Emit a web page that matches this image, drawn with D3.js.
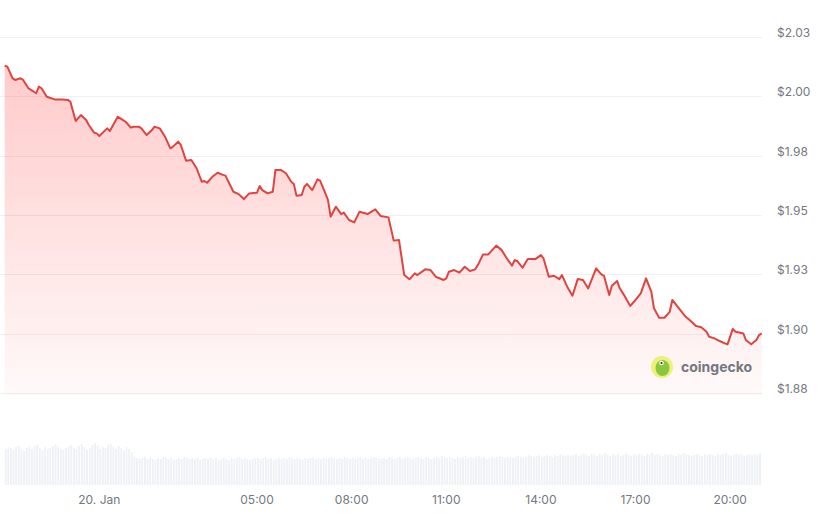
<!DOCTYPE html>
<html>
<head>
<meta charset="utf-8">
<script src="https://cdn.jsdelivr.net/npm/d3@7"></script>
<style>
body { margin: 0; background: #fff; }
text { font-family: Inter, "Noto Sans", sans-serif; }
</style>
</head>
<body>
<svg id="chart" width="836" height="513"></svg>
<script>
// price ticks (19 Jan 21:00 -> 20 Jan 21:00)
var times = ["21:00","21:05","21:15","21:20","21:30","21:35","21:45","21:50","22:00","22:05",
	"22:10","22:20","22:35","22:50","23:00","23:05","23:15","23:25","23:35","23:40",
	"23:50","23:55","00:00","00:15","00:20","00:35","00:40","00:45","00:50","01:00",
	"01:05","01:15","01:20","01:30","01:40","01:45","01:55","02:05","02:15","02:20",
	"02:30","02:35","02:45","02:55","03:05","03:15","03:20","03:25","03:35","03:45",
	"03:55","04:00","04:15","04:25","04:35","04:45","05:00","05:05","05:10","05:20",
	"05:30","05:35","05:45","05:55","06:05","06:10","06:15","06:25","06:30","06:35",
	"06:45","06:55","07:00","07:10","07:15","07:20","07:30","07:40","07:45","07:55",
	"08:05","08:15","08:30","08:45","08:55","09:10","09:20","09:30","09:40","09:50",
	"10:00","10:05","10:20","10:30","10:40","10:55","11:00","11:05","11:15","11:25",
	"11:35","11:45","11:55","12:00","12:10","12:20","12:35","12:45","12:55","13:05",
	"13:10","13:15","13:25","13:35","13:50","14:00","14:05","14:15","14:25","14:35",
	"14:40","14:50","15:00","15:10","15:20","15:25","15:30","15:45","15:55","16:00",
	"16:10","16:15","16:25","16:30","16:40","16:50","17:00","17:10","17:20","17:30",
	"17:35","17:45","17:55","18:05","18:10","18:20","18:35","18:45","18:55","19:05",
	"19:15","19:20","19:30","19:40","19:50","19:55","20:05","20:10","20:15","20:25",
	"20:30","20:40","20:50","20:55","21:00"];

var prices = [2.0129,2.0125,2.0076,2.0069,2.0076,2.0069,2.0034,2.0027,2.0013,2.0041,
	2.0034,1.9998,1.9987,1.9987,1.9985,1.9977,1.9896,1.9921,1.9900,1.9879,
	1.9847,1.9844,1.9833,1.9865,1.9854,1.9914,1.9907,1.9900,1.9893,1.9868,
	1.9872,1.9872,1.9865,1.9837,1.9858,1.9872,1.9865,1.9830,1.9781,1.9788,
	1.9809,1.9795,1.9729,1.9732,1.9697,1.9640,1.9643,1.9636,1.9661,1.9678,
	1.9669,1.9666,1.9598,1.9588,1.9567,1.9591,1.9594,1.9622,1.9605,1.9591,
	1.9598,1.9690,1.9690,1.9676,1.9640,1.9631,1.9581,1.9584,1.9619,1.9631,
	1.9605,1.9650,1.9645,1.9591,1.9563,1.9493,1.9535,1.9504,1.9510,1.9479,
	1.9469,1.9514,1.9504,1.9524,1.9496,1.9490,1.9392,1.9395,1.9247,1.9229,
	1.9254,1.9247,1.9271,1.9268,1.9240,1.9226,1.9233,1.9261,1.9268,1.9257,
	1.9282,1.9264,1.9271,1.9289,1.9334,1.9334,1.9371,1.9353,1.9318,1.9286,
	1.9310,1.9306,1.9278,1.9315,1.9315,1.9331,1.9317,1.9240,1.9244,1.9230,
	1.9247,1.9198,1.9160,1.9230,1.9226,1.9208,1.9191,1.9275,1.9250,1.9244,
	1.9163,1.9202,1.9222,1.9191,1.9156,1.9117,1.9142,1.9170,1.9233,1.9177,
	1.9107,1.9067,1.9067,1.9092,1.9142,1.9114,1.9072,1.9053,1.9032,1.9027,
	1.9008,1.8987,1.8980,1.8969,1.8959,1.8955,1.9020,1.9008,1.9006,1.9001,
	1.8973,1.8955,1.8973,1.8994,1.9001];

// 5 minute volume bars (millions)
var volumes = [36,38,37,35,38,39,36,34,37,38,36,39,40,37,35,38,36,37,39,41,38,36,35,37,
	38,40,37,36,39,41,38,35,37,40,42,39,36,38,37,40,41,38,36,39,37,35,38,36,
	33,28,27,26,27,28,26,27,26,25,27,26,28,27,26,27,25,26,27,26,28,27,26,27,
	26,27,25,26,27,26,28,26,27,25,26,27,26,25,27,26,27,28,26,27,26,25,26,27,
	27,26,27,28,26,27,25,26,27,26,27,26,28,27,26,27,26,25,27,26,27,28,26,27,
	26,27,26,27,28,27,26,27,26,28,27,26,27,26,27,28,26,27,26,27,28,27,26,27,
	27,26,28,27,26,27,28,26,27,28,27,26,27,28,27,26,28,27,26,27,28,27,29,28,
	27,28,27,26,28,27,28,29,27,28,27,28,29,27,28,26,27,28,27,28,29,28,27,28,
	28,27,28,29,28,27,28,30,29,28,29,30,28,29,30,29,28,30,29,31,30,29,30,29,
	30,31,29,30,31,30,29,31,30,29,31,30,32,30,29,31,30,31,29,30,31,30,29,31,
	30,31,30,29,31,30,32,30,31,30,29,31,30,31,30,29,31,30,32,31,30,29,30,31,
	30,29,31,30,31,30,29,31,30,31,32,30,29,30,31,30,31,29,30,31,30,31,30,32];

var yTicks = [1.875, 1.9, 1.925, 1.95, 1.975, 2.0, 2.025];
var yTickLabels = ["$1.88", "$1.90", "$1.93", "$1.95", "$1.98", "$2.00", "$2.03"];
var xTicks = ["2025-01-20T00:00", "2025-01-20T05:00", "2025-01-20T08:00", "2025-01-20T11:00",
	"2025-01-20T14:00", "2025-01-20T17:00", "2025-01-20T20:00"];
var xTickLabels = ["20. Jan", "05:00", "08:00", "11:00", "14:00", "17:00", "20:00"];

var lineColor = "#df4441";
var textColor = "#74787f";

DrawChart();

function DrawChart(){
	var svg = d3.select("#chart");

	// turn the clock strings into dates, rolling over midnight
	var day = 19, prevHour = -1;
	var data = times.map(function(t, i) {
		var h = +t.slice(0, 2), m = +t.slice(3);
		if (h < prevHour) day++;
		prevHour = h;
		return { date: new Date(2025, 0, day, h, m), price: prices[i] };
	});
	var start = data[0].date, end = data[data.length - 1].date;

	var xScale = d3.scaleTime().domain([start, end]).range([4.7, 761.7]);
	var yScale = d3.scaleLinear().domain([1.875, 2.025]).range([393, 37]);
	var vScale = d3.scaleLinear().domain([0, 50]).range([485, 435]);

	// grid + right labels
	svg.append("g").selectAll("line")
	 .data(yTicks)
	 .enter().append("line")
	 .attr("x1", 0)
	 .attr("x2", 762)
	 .attr("y1", function(d) { return Math.round(yScale(d)) + 0.5; })
	 .attr("y2", function(d) { return Math.round(yScale(d)) + 0.5; })
	 .attr("stroke", "#f0f0f0")
	 .attr("stroke-width", 1);

	svg.append("g").selectAll("text")
	 .data(yTicks)
	 .enter().append("text")
	 .attr("x", 777)
	 .attr("y", function(d) { return yScale(d); })
	 .attr("font-size", "12px")
	 .attr("fill", textColor)
	 .text(function(d, i) { return yTickLabels[i]; });

	// volume
	var step = xScale(new Date(+start + 5 * 60000)) - xScale(start);
	svg.append("g").selectAll("rect")
	 .data(volumes)
	 .enter().append("rect")
	 .attr("x", function(d, i) { return xScale(new Date(+start + i * 5 * 60000)); })
	 .attr("y", function(d) { return vScale(d); })
	 .attr("width", step * 0.7)
	 .attr("height", function(d) { return 485 - vScale(d); })
	 .attr("fill", "#eef1f5");

	// x labels
	svg.append("g").selectAll("text")
	 .data(xTicks)
	 .enter().append("text")
	 .attr("x", function(d) { return xScale(new Date(d)); })
	 .attr("y", 504)
	 .attr("text-anchor", "middle")
	 .attr("font-size", "12px")
	 .attr("fill", textColor)
	 .text(function(d, i) { return xTickLabels[i]; });

	// area gradient
	var grad = svg.append("defs").append("linearGradient")
	 .attr("id", "fade")
	 .attr("gradientUnits", "userSpaceOnUse")
	 .attr("x1", 0).attr("x2", 0)
	 .attr("y1", 62).attr("y2", 395);
	grad.append("stop").attr("offset", 0).attr("stop-color", "#ff3b3b").attr("stop-opacity", 0.27);
	grad.append("stop").attr("offset", 1).attr("stop-color", "#ff3b3b").attr("stop-opacity", 0.03);

	var area = d3.area()
	 .x(function(d) { return xScale(d.date); })
	 .y0(395)
	 .y1(function(d) { return yScale(d.price); });

	var line = d3.line()
	 .x(function(d) { return xScale(d.date); })
	 .y(function(d) { return yScale(d.price); });

	svg.append("path")
	 .datum(data)
	 .attr("d", area)
	 .attr("fill", "url(#fade)");

	svg.append("path")
	 .datum(data)
	 .attr("d", line)
	 .attr("fill", "none")
	 .attr("stroke", lineColor)
	 .attr("stroke-width", 2)
	 .attr("stroke-linejoin", "round");

	// watermark
	var logo = svg.append("g").attr("transform", "translate(662,367)");
	logo.append("circle").attr("r", 11).attr("fill", "#eef07c");
	logo.append("ellipse").attr("cx", 0.5).attr("cy", 1).attr("rx", 7).attr("ry", 8).attr("fill", "#8cc63f");
	logo.append("circle").attr("cx", -0.5).attr("cy", -4).attr("r", 2.3).attr("fill", "#fff");
	logo.append("circle").attr("cx", -0.5).attr("cy", -4).attr("r", 1.1).attr("fill", "#333");

	svg.append("text")
	 .attr("x", 681)
	 .attr("y", 372)
	 .attr("font-size", "14px")
	 .attr("font-weight", "bold")
	 .attr("fill", "#74777d")
	 .text("coingecko");
}
</script>
</body>
</html>
